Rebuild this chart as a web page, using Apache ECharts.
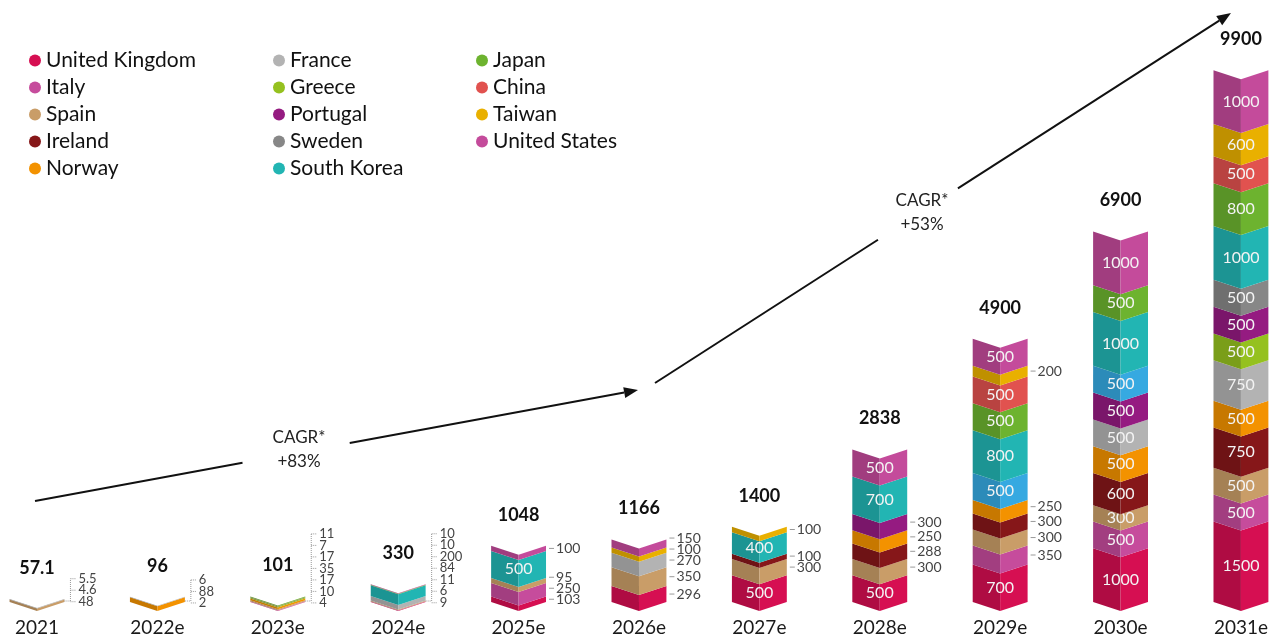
<!DOCTYPE html>
<html>
<head>
<meta charset="utf-8">
<script src="https://cdn.jsdelivr.net/npm/echarts@6/dist/echarts.min.js"></script>
<style>html,body{margin:0;padding:0;background:#fff}#c{width:1271px;height:638px}</style>
</head>
<body>
<div id="c"></div>
<script>
// ---- data ----
const years = ['2021','2022e','2023e','2024e','2025e','2026e','2027e','2028e','2029e','2030e','2031e'];
const totals = [57.1, 96, 101, 330, 1048, 1166, 1400, 2838, 4900, 6900, 9900];
const unitedKingdom = [0, 2, 4, 9, 103, 296, 500, 500, 700, 1000, 1500];
const italy         = [0, 0, 10, 6, 250, 0, 0, 0, 350, 500, 500];
const spain         = [48, 0, 17, 11, 95, 350, 300, 300, 300, 300, 500];
const ireland       = [0, 0, 0, 0, 0, 0, 100, 288, 300, 600, 750];
const norway        = [0, 88, 35, 0, 0, 0, 0, 250, 250, 500, 500];
const france        = [4.6, 6, 0, 84, 0, 270, 0, 0, 0, 500, 750];
const greece        = [0, 0, 17, 0, 0, 0, 0, 0, 0, 0, 500];
const portugal      = [0, 0, 7, 0, 0, 0, 0, 300, 0, 500, 500];
const sweden        = [5.5, 0, 0, 0, 0, 0, 0, 0, 0, 0, 500];
const other         = [0, 0, 0, 0, 0, 0, 0, 0, 500, 500, 0];
const southKorea    = [0, 0, 0, 200, 500, 0, 400, 700, 800, 1000, 1000];
const japan         = [0, 0, 11, 10, 0, 0, 0, 0, 500, 500, 800];
const china         = [0, 0, 0, 0, 0, 0, 0, 0, 500, 0, 500];
const taiwan        = [0, 0, 0, 0, 0, 100, 100, 0, 200, 0, 600];
const unitedStates  = [0, 0, 0, 10, 100, 150, 0, 500, 500, 1000, 1000];

const defs = [
  {name:'United Kingdom', data:unitedKingdom, color:'#d60f52'},
  {name:'Italy', data:italy, color:'#c64c9c'},
  {name:'Spain', data:spain, color:'#c99d68'},
  {name:'Ireland', data:ireland, color:'#861719'},
  {name:'Norway', data:norway, color:'#f39200'},
  {name:'France', data:france, color:'#b3b3b3'},
  {name:'Greece', data:greece, color:'#95c11f'},
  {name:'Portugal', data:portugal, color:'#951b81'},
  {name:'Sweden', data:sweden, color:'#878787'},
  {name:'Other', data:other, color:'#36a9e1'},
  {name:'South Korea', data:southKorea, color:'#22b5b3'},
  {name:'Japan', data:japan, color:'#6db32f'},
  {name:'China', data:china, color:'#e1524f'},
  {name:'Taiwan', data:taiwan, color:'#e9b000'},
  {name:'United States', data:unitedStates, color:'#c44b9b'}
];

const FONT = 'Lato, "Open Sans", sans-serif';
const DIP = 9;

function shade(hex, f){
  const n = parseInt(hex.slice(1),16);
  const r = Math.round(((n>>16)&255)*f), g = Math.round(((n>>8)&255)*f), b = Math.round((n&255)*f);
  return 'rgb('+r+','+g+','+b+')';
}
function insideLabel(i, v){ return i >= 9 || (i >= 4 && v >= 400); }

const cum = new Array(years.length).fill(0);
const perYear = years.map(()=>[]);
const series = [];
defs.forEach(def=>{
  const d = [];
  def.data.forEach((v,i)=>{
    if (v > 0){
      d.push([i, cum[i], cum[i]+v, v]);
      perYear[i].push({s:cum[i], e:cum[i]+v, v:v});
      cum[i] += v;
    }
  });
  const dark = shade(def.color, 0.82);
  series.push({
    type:'custom', name:def.name, itemStyle:{color:def.color},
    data:d, encode:{x:0, y:[1,2]},
    renderItem:function(params, api){
      const i = api.value(0), s = api.value(1), e = api.value(2), v = api.value(3);
      const p0 = api.coord([i, s]), p1 = api.coord([i, e]);
      const step = api.coord([1,0])[0] - api.coord([0,0])[0];
      const hw = step*0.228;
      const xc = p0[0], xl = xc-hw, xr = xc+hw, yb = p0[1], yt = p1[1];
      const ch = [
        {type:'polygon', shape:{points:[[xl,yt],[xc,yt+DIP],[xc,yb+DIP],[xl,yb]]}, style:{fill:dark}},
        {type:'polygon', shape:{points:[[xc,yt+DIP],[xr,yt],[xr,yb],[xc,yb+DIP]]}, style:{fill:def.color}}
      ];
      if (insideLabel(i, v)){
        ch.push({type:'text', style:{text:String(v), x:xc, y:(yt+yb)/2+DIP/2, align:'center', verticalAlign:'middle',
          fill:'#f3f3f3', fontSize:16, fontFamily:FONT}});
      }
      return {type:'group', children:ch};
    }
  });
});

// side labels
series.push({
  type:'custom', name:'sideLabels', silent:true,
  data: years.map((y,i)=>[i, totals[i]]), encode:{x:0,y:1},
  renderItem:function(params, api){
    const i = api.value(0);
    if (i > 8) return null;
    const step = api.coord([1,0])[0] - api.coord([0,0])[0];
    const hw = step*0.228;
    const base = api.coord([i,0]);
    const xr = base[0] + hw;
    const ch = [];
    const small = i < 4;
    const gap = small ? 11.5 : 11;
    let prev = Infinity;
    const ys = [];
    const labs = [];
    perYear[i].forEach(sg=>{
      if (!small && insideLabel(i, sg.v)) { return; }
      const c = (api.coord([i,sg.s])[1] + api.coord([i,sg.e])[1])/2 + (small ? 1 : 0);
      let y = Math.min(c, prev - gap);
      prev = y;
      ys.push(y); labs.push(sg.v);
    });
    if (small){
      const xv = xr + 6;
      const top = ys[ys.length-1];
      ch.push({type:'line', shape:{x1:xr, y1:base[1]-1, x2:xv, y2:base[1]-1}, style:{stroke:'#999', lineWidth:1, lineDash:[1,1]}});
      ch.push({type:'line', shape:{x1:xv, y1:base[1]-1, x2:xv, y2:top}, style:{stroke:'#999', lineWidth:1, lineDash:[1,1]}});
      ys.forEach((y,k)=>{
        ch.push({type:'line', shape:{x1:xv, y1:y, x2:xv+6, y2:y}, style:{stroke:'#999', lineWidth:1, lineDash:[1,1]}});
        ch.push({type:'text', style:{text:String(labs[k]), x:xv+8, y:y, align:'left', verticalAlign:'middle', fill:'#444', fontSize:13, fontFamily:FONT}});
      });
    } else {
      ys.forEach((y,k)=>{
        ch.push({type:'line', shape:{x1:xr+3, y1:y, x2:xr+8, y2:y}, style:{stroke:'#999', lineWidth:1}});
        ch.push({type:'text', style:{text:String(labs[k]), x:xr+10, y:y, align:'left', verticalAlign:'middle', fill:'#444', fontSize:14, fontFamily:FONT}});
      });
    }
    return {type:'group', children:ch};
  }
});

// totals
series.push({
  type:'custom', name:'totals', silent:true,
  data: totals.map((t,i)=>[i,t]), encode:{x:0,y:1},
  renderItem:function(params, api){
    const p = api.coord([api.value(0), api.value(1)]);
    return {type:'text', style:{text:String(totals[api.value(0)]), x:p[0], y:p[1]-31, align:'center', verticalAlign:'middle',
      fill:'#111', fontSize:18, fontWeight:'bold', fontFamily:FONT}};
  }
});

function arrowGraphic(x1,y1,x2,y2,gapA,gapB){
  const els = [];
  const dx = x2-x1, dy = y2-y1, L = Math.hypot(dx,dy), ux = dx/L, uy = dy/L;
  const head = 14, hwid = 5.5;
  const bx = x2 - ux*head, by = y2 - uy*head;
  els.push({type:'line', shape:{x1:x1, y1:y1, x2:x1+ux*gapA, y2:y1+uy*gapA}, style:{stroke:'#111', lineWidth:2}});
  els.push({type:'line', shape:{x1:x1+ux*gapB, y1:y1+uy*gapB, x2:bx, y2:by}, style:{stroke:'#111', lineWidth:2}});
  els.push({type:'polygon', shape:{points:[[x2,y2],[bx-uy*hwid, by+ux*hwid],[bx+uy*hwid, by-ux*hwid]]}, style:{fill:'#111'}});
  return els;
}
const g1 = arrowGraphic(35,501,638,390, 211, 320);
const g2 = arrowGraphic(655,383,1231,13, 265, 360);
const graphics = g1.concat(g2).concat([
  {type:'text', style:{text:'CAGR*\n+83%', x:299, y:450, align:'center', verticalAlign:'middle', fill:'#222', fontSize:17, lineHeight:24, fontFamily:FONT}},
  {type:'text', style:{text:'CAGR*\n+53%', x:922, y:213, align:'center', verticalAlign:'middle', fill:'#222', fontSize:17, lineHeight:24, fontFamily:FONT}}
]);

const legendBase = {orient:'vertical', top:45, icon:'circle', itemWidth:12, itemHeight:12, itemGap:6,
  textStyle:{fontSize:21, color:'#111', fontFamily:FONT, lineHeight:21}, selectedMode:false};
const option = {
  animation:false,
  textStyle:{fontFamily:FONT},
  legend:[
    Object.assign({}, legendBase, {left:24, data:defs.slice(0,5).map(d=>d.name)}),
    Object.assign({}, legendBase, {left:268, data:defs.slice(5,9).map(d=>d.name).concat(['South Korea'])}),
    Object.assign({}, legendBase, {left:471, data:['Japan','China','Taiwan','United States']})
  ],
  grid:{left:37, right:26, top:65, bottom:36},
  xAxis:{type:'category', data:years, boundaryGap:false, axisLine:{show:false}, axisTick:{show:false},
    axisLabel:{fontSize:19, color:'#1a1a1a', margin:16, fontFamily:FONT, showMinLabel:true, showMaxLabel:true, interval:0}},
  yAxis:{type:'value', min:0, max:10000, show:false, splitLine:{show:false}},
  graphic:graphics,
  series:series
};
const chart = echarts.init(document.getElementById('c'));
chart.setOption(option);
</script>
</body>
</html>
